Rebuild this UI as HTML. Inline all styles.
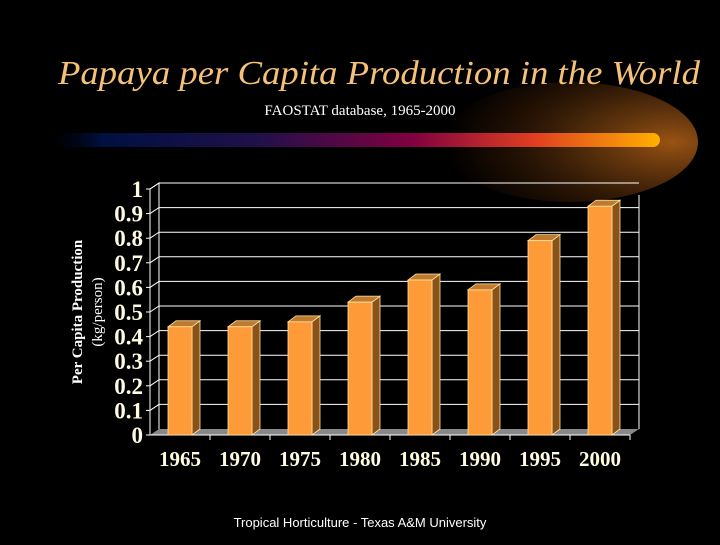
<!DOCTYPE html>
<html><head><meta charset="utf-8"><style>
html,body{margin:0;padding:0;background:#000;}
body{width:720px;height:540px;overflow:hidden;position:relative;font-family:"Liberation Serif",serif;}
</style></head><body>
<svg width="720" height="540" viewBox="0 0 720 540">
<defs>
<radialGradient id="glow" cx="0.85" cy="0.5" r="0.9" fx="0.9" fy="0.5">
<stop offset="0" stop-color="#c06818" stop-opacity="0.8"/>
<stop offset="0.4" stop-color="#7a4210" stop-opacity="0.6"/>
<stop offset="0.8" stop-color="#3a1a04" stop-opacity="0.3"/>
<stop offset="1" stop-color="#000" stop-opacity="0"/>
</radialGradient>
<linearGradient id="bar" x1="0" x2="1" y1="0" y2="0">
<stop offset="0" stop-color="#000" stop-opacity="0"/>
<stop offset="0.1" stop-color="#001040"/>
<stop offset="0.35" stop-color="#20104a"/>
<stop offset="0.6" stop-color="#800040"/>
<stop offset="0.8" stop-color="#e04020"/>
<stop offset="1" stop-color="#ffb000"/>
</linearGradient>
</defs>
<ellipse cx="570" cy="142" rx="128" ry="60" fill="url(#glow)"/>
<rect x="40" y="133" width="620" height="14" rx="7" fill="url(#bar)"/>
<text x="58" y="84" textLength="642" lengthAdjust="spacingAndGlyphs" font-size="34" font-style="italic" fill="#f5c078" font-family="Liberation Serif">Papaya per Capita Production in the World</text>
<text x="360" y="115" text-anchor="middle" font-size="15" fill="#fff" font-family="Liberation Serif">FAOSTAT database, 1965-2000</text>
<g id="chart"></g>
<text transform="translate(82,312) rotate(-90)" text-anchor="middle" font-size="15" font-weight="bold" fill="#fff">Per Capita Production</text>
<text transform="translate(102,312) rotate(-90)" text-anchor="middle" font-size="15" fill="#fff">(kg/person)</text>
<text x="360" y="527" text-anchor="middle" font-size="13" fill="#fff" font-family="Liberation Sans">Tropical Horticulture - Texas A&amp;M University</text>
</svg>
<script>
const categories=["1965","1970","1975","1980","1985","1990","1995","2000"];
const values=[0.44,0.44,0.46,0.54,0.63,0.59,0.79,0.93];
const yTicks=["0","0.1","0.2","0.3","0.4","0.5","0.6","0.7","0.8","0.9","1"];
const NS="http://www.w3.org/2000/svg";
const g=document.getElementById('chart');
const x0=150,x1=630,y0=435,yH=246,dx=9,dy=-6;
const band=(x1-x0)/categories.length;
const yS=v=>y0-v*yH;
const xS=i=>x0+band*(i+0.5);
function mk(t,a,p){const e=document.createElementNS(NS,t);for(const k in a)e.setAttribute(k,a[k]);(p||g).appendChild(e);return e;}
let floor=mk('polygon',{points:`${x0},${y0} ${x1},${y0} ${x1+dx},${y0+dy} ${x0+dx},${y0+dy}`,fill:'#888'});


yTicks.forEach((t,i)=>{const v=i/10;const y=yS(v);
 if(i>0){let gl=mk('polyline',{points:`${x0},${y} ${x0+dx},${y+dy} ${x1+dx},${y+dy}`,fill:'none',stroke:'#fff','stroke-width':1});
 
 }
 let tk=mk('line',{x1:x0-4,y1:y,x2:x0,y2:y,stroke:'#fff'});
 
 
 let tl=mk('text',{x:x0-7,y:y+8,'text-anchor':'end','font-size':23,'font-weight':'bold',fill:'#fffbe0'});tl.textContent=t;
 
 
});
let ax=mk('polyline',{points:`${x0},${y0} ${x0},${yS(1)} ${x0+dx},${yS(1)+dy} ${x0+dx},${y0+dy}`,fill:'none',stroke:'#fff'});


let ax2=mk('line',{x1:x1+dx,y1:y0+dy,x2:x1+dx,y2:yS(1)+dy+12,stroke:'#fff'});


let xa=mk('line',{x1:x0,y1:y0,x2:x1,y2:y0,stroke:'#fff'});


categories.forEach((c,i)=>{
 const tx=x0+band*(i+1);
 let tk=mk('line',{x1:tx,y1:y0,x2:tx,y2:y0+5,stroke:'#fff'});
 
 
 const cx=xS(i),w=24,l=cx-w/2,r=cx+w/2,top=yS(values[i]);
 const bg=mk('g',{});
 
 
 mk('polygon',{points:`${r},${y0} ${r+8},${y0-6} ${r+8},${top-6} ${r},${top}`,fill:'#8a5218',stroke:'#ffe8a0','stroke-width':0.8},bg);
 mk('polygon',{points:`${l},${top} ${l+8},${top-6} ${r+8},${top-6} ${r},${top}`,fill:'#c07a30',stroke:'#ffe8a0','stroke-width':0.8},bg);
 mk('rect',{x:l,y:top,width:w,height:y0-top,fill:'#ff9a38',stroke:'#ffe8a0','stroke-width':0.8},bg);
 let lb=mk('text',{x:cx,y:466,'text-anchor':'middle','font-size':21,'font-weight':'bold',fill:'#fffbe0'});lb.textContent=c;
 
 
});
</script>
</body></html>
